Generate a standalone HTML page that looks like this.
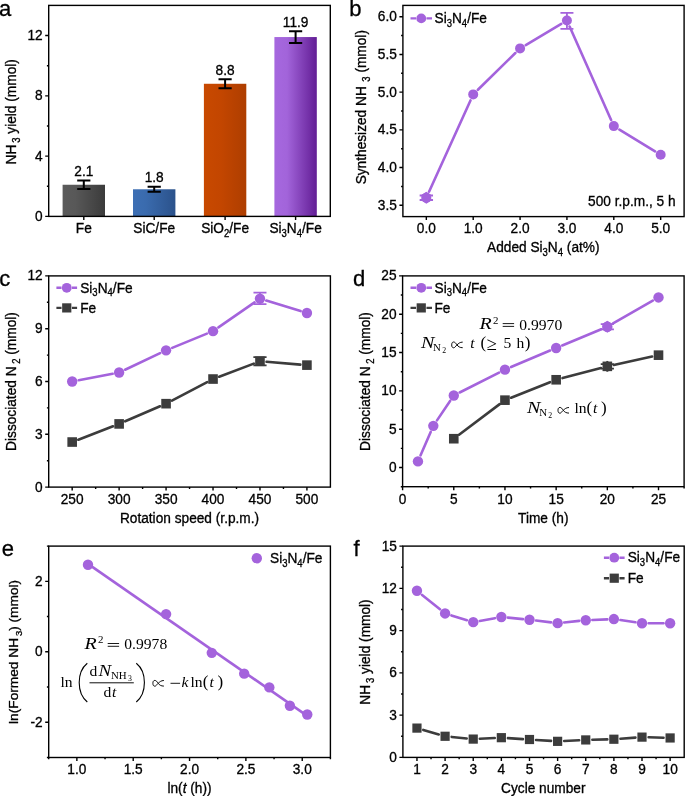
<!DOCTYPE html>
<html><head><meta charset="utf-8"><style>
html,body{margin:0;padding:0;background:#fff;}
svg{display:block;-webkit-font-smoothing:antialiased;will-change:transform;}
</style></head><body>
<svg width="685" height="796" viewBox="0 0 685 796" font-family="Liberation Sans, sans-serif" fill="#000">
<style>text{stroke:#000;stroke-width:0.3px;}</style>
<rect width="685" height="796" fill="#fff"/>
<defs>
<linearGradient id="gFe" x1="0" x2="1" y1="0" y2="0"><stop offset="0" stop-color="#5b5b5b"/><stop offset="0.3" stop-color="#585858"/><stop offset="1" stop-color="#3b3b3b"/></linearGradient>
<linearGradient id="gSiC" x1="0" x2="1" y1="0" y2="0"><stop offset="0" stop-color="#3d6fb4"/><stop offset="0.3" stop-color="#3a6bae"/><stop offset="1" stop-color="#2b528b"/></linearGradient>
<linearGradient id="gSiO" x1="0" x2="1" y1="0" y2="0"><stop offset="0" stop-color="#c84900"/><stop offset="0.4" stop-color="#c34600"/><stop offset="1" stop-color="#ae3e00"/></linearGradient>
<linearGradient id="gSiN" x1="0" x2="1" y1="0" y2="0"><stop offset="0" stop-color="#a668df"/><stop offset="0.3" stop-color="#a264da"/><stop offset="1" stop-color="#621d95"/></linearGradient>
</defs>
<text x="-0.9" y="15.6" font-size="22">a</text>
<rect x="62.6" y="184.75" width="42.4" height="31.65" fill="url(#gFe)"/>
<path d="M83.8 180.53V188.97M77.2 180.53h13.2M77.2 188.97h13.2" stroke="#000" stroke-width="2.0" fill="none"/>
<text transform="translate(83.8,176.23) scale(1,1.1)" text-anchor="middle" font-size="13.7" >2.1</text>
<rect x="133" y="189.27" width="42.4" height="27.13" fill="url(#gSiC)"/>
<path d="M154.2 186.71V191.83M147.6 186.71h13.2M147.6 191.83h13.2" stroke="#000" stroke-width="2.0" fill="none"/>
<text transform="translate(154.2,182.41) scale(1,1.1)" text-anchor="middle" font-size="13.7" >1.8</text>
<rect x="203.9" y="83.77" width="42.4" height="132.63" fill="url(#gSiO)"/>
<path d="M225.1 79.25V88.29M218.5 79.25h13.2M218.5 88.29h13.2" stroke="#000" stroke-width="2.0" fill="none"/>
<text transform="translate(225.1,74.95) scale(1,1.1)" text-anchor="middle" font-size="13.7" >8.8</text>
<rect x="274.4" y="37.05" width="42.4" height="179.35" fill="url(#gSiN)"/>
<path d="M295.6 31.17V42.93M289 31.17h13.2M289 42.93h13.2" stroke="#000" stroke-width="2.0" fill="none"/>
<text transform="translate(295.6,26.87) scale(1,1.1)" text-anchor="middle" font-size="13.7" >11.9</text>
<rect x="48.7" y="5.4" width="281.6" height="211" fill="none" stroke="#000" stroke-width="1.4"/>
<path d="M83.8 216.4v3.5M154.2 216.4v3.5M225.1 216.4v3.5M295.6 216.4v3.5" stroke="#000" stroke-width="1.4" fill="none"/>
<text transform="translate(83.8,233.3) scale(1,1.1)" text-anchor="middle" font-size="13.7" >Fe</text>
<text transform="translate(154.2,233.3) scale(1,1.1)" text-anchor="middle" font-size="13.7" >SiC/Fe</text>
<text transform="translate(225.1,233.3) scale(1,1.1)" text-anchor="middle" font-size="13.7" >SiO<tspan font-size="9.5" dy="3.6">2</tspan><tspan dy="-3.6">/Fe</tspan></text>
<text transform="translate(295.6,233.3) scale(1,1.1)" text-anchor="middle" font-size="13.7" >Si<tspan font-size="9.5" dy="3.6">3</tspan><tspan dy="-3.6">N</tspan><tspan font-size="9.5" dy="3.6">4</tspan><tspan dy="-3.6">/Fe</tspan></text>
<path d="M48.7 216.4h-3.5M48.7 156.11h-3.5M48.7 95.83h-3.5M48.7 35.54h-3.5M48.7 186.26h-1.8M48.7 125.97h-1.8M48.7 65.69h-1.8" stroke="#000" stroke-width="1.4" fill="none"/>
<text transform="translate(42.7,220.9) scale(1,1.1)" text-anchor="end" font-size="13.7" >0</text>
<text transform="translate(42.7,160.61) scale(1,1.1)" text-anchor="end" font-size="13.7" >4</text>
<text transform="translate(42.7,100.33) scale(1,1.1)" text-anchor="end" font-size="13.7" >8</text>
<text transform="translate(42.7,40.04) scale(1,1.1)" text-anchor="end" font-size="13.7" >12</text>
<text transform="translate(16,111.8) rotate(-90) scale(1,1.1)" text-anchor="middle" font-size="13.7">NH<tspan font-size="9.5" dy="3.6"> 3</tspan><tspan dy="-3.6"> yield (mmol)</tspan></text>
<text x="349.3" y="15.6" font-size="22">b</text>
<path d="M429.06 191.73L470.47 100.42M477.91 89.78L515.36 53.02M525.74 45.02L561.26 23.86M569.61 26.52L611.12 120.05M619.43 129.53L655.04 151.31" stroke="#a463dc" stroke-width="2.6" fill="none" stroke-linecap="round"/>
<path d="M426.33 195.48V200.01M419.63 195.48h13.4M419.63 200.01h13.4" stroke="#a463dc" stroke-width="1.8" fill="none"/>
<path d="M426.33 191.74L430.93 194.74V200.74L426.33 203.74L421.73 200.74V194.74Z" fill="#a463dc"/>
<path d="M566.93 12.94V28.78M560.43 12.94h13M560.43 28.78h13" stroke="#a463dc" stroke-width="1.8" fill="none"/>
<circle cx="426.33" cy="197.74" r="5.0" fill="#a463dc"/>
<circle cx="473.2" cy="94.41" r="5.0" fill="#a463dc"/>
<circle cx="520.07" cy="48.39" r="5.0" fill="#a463dc"/>
<circle cx="566.93" cy="20.49" r="5.0" fill="#a463dc"/>
<circle cx="613.8" cy="126.09" r="5.0" fill="#a463dc"/>
<circle cx="660.67" cy="154.75" r="5.0" fill="#a463dc"/>
<rect x="402.9" y="5.4" width="281.2" height="211.2" fill="none" stroke="#000" stroke-width="1.4"/>
<path d="M402.9 205.29h-3.5M402.9 167.57h-3.5M402.9 129.86h-3.5M402.9 92.14h-3.5M402.9 54.43h-3.5M402.9 16.71h-3.5M402.9 186.43h-1.8M402.9 148.71h-1.8M402.9 111h-1.8M402.9 73.29h-1.8M402.9 35.57h-1.8" stroke="#000" stroke-width="1.4" fill="none"/>
<text transform="translate(396.9,209.79) scale(1,1.1)" text-anchor="end" font-size="13.7" >3.5</text>
<text transform="translate(396.9,172.07) scale(1,1.1)" text-anchor="end" font-size="13.7" >4.0</text>
<text transform="translate(396.9,134.36) scale(1,1.1)" text-anchor="end" font-size="13.7" >4.5</text>
<text transform="translate(396.9,96.64) scale(1,1.1)" text-anchor="end" font-size="13.7" >5.0</text>
<text transform="translate(396.9,58.93) scale(1,1.1)" text-anchor="end" font-size="13.7" >5.5</text>
<text transform="translate(396.9,21.21) scale(1,1.1)" text-anchor="end" font-size="13.7" >6.0</text>
<path d="M426.33 216.6v3.5M473.2 216.6v3.5M520.07 216.6v3.5M566.93 216.6v3.5M613.8 216.6v3.5M660.67 216.6v3.5" stroke="#000" stroke-width="1.4" fill="none"/>
<text transform="translate(426.33,233.4) scale(1,1.1)" text-anchor="middle" font-size="13.7" >0.0</text>
<text transform="translate(473.2,233.4) scale(1,1.1)" text-anchor="middle" font-size="13.7" >1.0</text>
<text transform="translate(520.07,233.4) scale(1,1.1)" text-anchor="middle" font-size="13.7" >2.0</text>
<text transform="translate(566.93,233.4) scale(1,1.1)" text-anchor="middle" font-size="13.7" >3.0</text>
<text transform="translate(613.8,233.4) scale(1,1.1)" text-anchor="middle" font-size="13.7" >4.0</text>
<text transform="translate(660.67,233.4) scale(1,1.1)" text-anchor="middle" font-size="13.7" >5.0</text>
<path d="M410.5 18.4H416.05M426.45 18.4H432" stroke="#a463dc" stroke-width="2.4" fill="none"/>
<circle cx="421.25" cy="18.4" r="4.9" fill="#a463dc"/>
<text transform="translate(434.5,23.1) scale(1,1.1)" text-anchor="start" font-size="13.7" >Si<tspan font-size="9.5" dy="3.6">3</tspan><tspan dy="-3.6">N</tspan><tspan font-size="9.5" dy="3.6">4</tspan><tspan dy="-3.6">/Fe</tspan></text>
<text transform="translate(675.6,206.4) scale(1,1.1)" text-anchor="end" font-size="13.7" >500 r.p.m., 5 h</text>
<text transform="translate(366.3,107.2) rotate(-90) scale(1,1.1)" text-anchor="middle" font-size="13.7">Synthesized NH<tspan font-size="9.5" dy="3.6">  3</tspan><tspan dy="-3.6"> (mmol)</tspan></text>
<text transform="translate(543.3,252) scale(1,1.1)" text-anchor="middle" font-size="13.7" >Added Si<tspan font-size="9.5" dy="3.6">3</tspan><tspan dy="-3.6">N</tspan><tspan font-size="9.5" dy="3.6">4</tspan><tspan dy="-3.6"> (at%)</tspan></text>
<text x="-0.7" y="286.3" font-size="22">c</text>
<path d="M78.33 439.67L112.97 426.29M125.19 421.3L160.01 406.29M171.92 400.61L207.18 382.1M219.2 376.7L253.8 363.6M266.55 361.8L300.35 364.59" stroke="#3c3c3c" stroke-width="2.6" fill="none" stroke-linecap="round"/>
<path d="M259.97 357.21V365.31M253.37 357.21h13.2M253.37 365.31h13.2" stroke="#3c3c3c" stroke-width="1.8" fill="none"/>
<rect x="67.38" y="437.24" width="9.6" height="9.6" fill="#3c3c3c"/>
<rect x="114.33" y="419.12" width="9.6" height="9.6" fill="#3c3c3c"/>
<rect x="161.27" y="398.88" width="9.6" height="9.6" fill="#3c3c3c"/>
<rect x="208.23" y="374.24" width="9.6" height="9.6" fill="#3c3c3c"/>
<rect x="255.17" y="356.46" width="9.6" height="9.6" fill="#3c3c3c"/>
<rect x="302.12" y="360.33" width="9.6" height="9.6" fill="#3c3c3c"/>
<path d="M78.66 380.26L112.64 373.76M125.09 369.71L160.11 353.17M172.18 347.85L206.92 333.66M218.45 327.4L254.55 302.37M266.28 300.54L300.62 311.1" stroke="#a463dc" stroke-width="2.6" fill="none" stroke-linecap="round"/>
<path d="M259.97 292.62V304.06M253.47 292.62h13M253.47 304.06h13" stroke="#a463dc" stroke-width="1.8" fill="none"/>
<circle cx="72.17" cy="381.5" r="5.2" fill="#a463dc"/>
<circle cx="119.12" cy="372.52" r="5.2" fill="#a463dc"/>
<circle cx="166.07" cy="350.35" r="5.2" fill="#a463dc"/>
<circle cx="213.03" cy="331.16" r="5.2" fill="#a463dc"/>
<circle cx="259.97" cy="298.6" r="5.2" fill="#a463dc"/>
<circle cx="306.92" cy="313.04" r="5.2" fill="#a463dc"/>
<rect x="48.7" y="275.9" width="281.7" height="211.2" fill="none" stroke="#000" stroke-width="1.4"/>
<path d="M48.7 487.1h-3.5M48.7 434.3h-3.5M48.7 381.5h-3.5M48.7 328.7h-3.5M48.7 275.9h-3.5M48.7 460.7h-1.8M48.7 407.9h-1.8M48.7 355.1h-1.8M48.7 302.3h-1.8" stroke="#000" stroke-width="1.4" fill="none"/>
<text transform="translate(42.7,491.6) scale(1,1.1)" text-anchor="end" font-size="13.7" >0</text>
<text transform="translate(42.7,438.8) scale(1,1.1)" text-anchor="end" font-size="13.7" >3</text>
<text transform="translate(42.7,386) scale(1,1.1)" text-anchor="end" font-size="13.7" >6</text>
<text transform="translate(42.7,333.2) scale(1,1.1)" text-anchor="end" font-size="13.7" >9</text>
<text transform="translate(42.7,280.4) scale(1,1.1)" text-anchor="end" font-size="13.7" >12</text>
<path d="M72.17 487.1v3.5M119.12 487.1v3.5M166.07 487.1v3.5M213.03 487.1v3.5M259.97 487.1v3.5M306.92 487.1v3.5M95.65 487.1v1.8M142.6 487.1v1.8M189.55 487.1v1.8M236.5 487.1v1.8M283.45 487.1v1.8" stroke="#000" stroke-width="1.4" fill="none"/>
<text transform="translate(72.17,503.9) scale(1,1.1)" text-anchor="middle" font-size="13.7" >250</text>
<text transform="translate(119.12,503.9) scale(1,1.1)" text-anchor="middle" font-size="13.7" >300</text>
<text transform="translate(166.07,503.9) scale(1,1.1)" text-anchor="middle" font-size="13.7" >350</text>
<text transform="translate(213.03,503.9) scale(1,1.1)" text-anchor="middle" font-size="13.7" >400</text>
<text transform="translate(259.97,503.9) scale(1,1.1)" text-anchor="middle" font-size="13.7" >450</text>
<text transform="translate(306.92,503.9) scale(1,1.1)" text-anchor="middle" font-size="13.7" >500</text>
<path d="M56.4 287.8H61.55M71.95 287.8H77.1" stroke="#a463dc" stroke-width="2.4" fill="none"/>
<circle cx="66.75" cy="287.8" r="4.9" fill="#a463dc"/>
<text transform="translate(80.2,292.5) scale(1,1.1)" text-anchor="start" font-size="13.7" >Si<tspan font-size="9.5" dy="3.6">3</tspan><tspan dy="-3.6">N</tspan><tspan font-size="9.5" dy="3.6">4</tspan><tspan dy="-3.6">/Fe</tspan></text>
<path d="M56.4 307.9H61.55M71.95 307.9H77.1" stroke="#3c3c3c" stroke-width="2.4" fill="none"/>
<rect x="62.15" y="303.3" width="9.2" height="9.2" fill="#3c3c3c"/>
<text transform="translate(80.2,312.6) scale(1,1.1)" text-anchor="start" font-size="13.7" >Fe</text>
<text transform="translate(15.6,381.5) rotate(-90) scale(1,1.1)" text-anchor="middle" font-size="13.7">Dissociated N<tspan font-size="9.5" dy="3.6"> 2</tspan><tspan dy="-3.6"> (mmol)</tspan></text>
<text transform="translate(189.5,522.7) scale(1,1.1)" text-anchor="middle" font-size="13.7" >Rotation speed (r.p.m.)</text>
<text x="353" y="286.3" font-size="22">d</text>
<path d="M459.05 434.74L499.69 404.13M511.09 397.71L550.01 382.21M562.53 378.09L600.94 368.03M613.77 364.94L652.06 356.57" stroke="#3c3c3c" stroke-width="2.6" fill="none" stroke-linecap="round"/>
<path d="M607.33 364.05V368.65M600.73 364.05h13.2M600.73 368.65h13.2" stroke="#3c3c3c" stroke-width="1.8" fill="none"/>
<path d="M607.33 360.95V371.75" stroke="#3c3c3c" stroke-width="2"/>
<rect x="448.98" y="433.91" width="9.6" height="9.6" fill="#3c3c3c"/>
<rect x="500.16" y="395.36" width="9.6" height="9.6" fill="#3c3c3c"/>
<rect x="551.35" y="374.97" width="9.6" height="9.6" fill="#3c3c3c"/>
<rect x="602.53" y="361.55" width="9.6" height="9.6" fill="#3c3c3c"/>
<rect x="653.71" y="350.36" width="9.6" height="9.6" fill="#3c3c3c"/>
<path d="M420.57 455.34L430.69 431.9M437 420.36L450.09 400.95M459.67 392.51L499.07 372.62M511.04 367.07L550.07 350.53M562.24 345.43L601.23 329.25M613.06 323.44L652.78 300.72" stroke="#a463dc" stroke-width="2.6" fill="none" stroke-linecap="round"/>
<path d="M607.33 324.04V329.4M600.73 324.04h13.2M600.73 329.4h13.2" stroke="#a463dc" stroke-width="1.8" fill="none"/>
<path d="M607.33 320.72L611.93 323.72V329.72L607.33 332.72L602.73 329.72V323.72Z" fill="#a463dc"/>
<circle cx="417.95" cy="461.4" r="5.2" fill="#a463dc"/>
<circle cx="433.31" cy="425.84" r="5.2" fill="#a463dc"/>
<circle cx="453.78" cy="395.48" r="5.2" fill="#a463dc"/>
<circle cx="504.96" cy="369.65" r="5.2" fill="#a463dc"/>
<circle cx="556.15" cy="347.96" r="5.2" fill="#a463dc"/>
<circle cx="607.33" cy="326.72" r="5.2" fill="#a463dc"/>
<circle cx="658.51" cy="297.44" r="5.2" fill="#a463dc"/>
<rect x="402.6" y="275.9" width="281.5" height="210.8" fill="none" stroke="#000" stroke-width="1.4"/>
<path d="M402.6 467.54h-3.5M402.6 429.21h-3.5M402.6 390.88h-3.5M402.6 352.55h-3.5M402.6 314.23h-3.5M402.6 275.9h-3.5M402.6 486.7h-1.8M402.6 448.37h-1.8M402.6 410.05h-1.8M402.6 371.72h-1.8M402.6 333.39h-1.8M402.6 295.06h-1.8" stroke="#000" stroke-width="1.4" fill="none"/>
<text transform="translate(396.6,472.04) scale(1,1.1)" text-anchor="end" font-size="13.7" >0</text>
<text transform="translate(396.6,433.71) scale(1,1.1)" text-anchor="end" font-size="13.7" >5</text>
<text transform="translate(396.6,395.38) scale(1,1.1)" text-anchor="end" font-size="13.7" >10</text>
<text transform="translate(396.6,357.05) scale(1,1.1)" text-anchor="end" font-size="13.7" >15</text>
<text transform="translate(396.6,318.73) scale(1,1.1)" text-anchor="end" font-size="13.7" >20</text>
<text transform="translate(396.6,280.4) scale(1,1.1)" text-anchor="end" font-size="13.7" >25</text>
<path d="M402.6 486.7v3.5M453.78 486.7v3.5M504.96 486.7v3.5M556.15 486.7v3.5M607.33 486.7v3.5M658.51 486.7v3.5M428.19 486.7v1.8M479.37 486.7v1.8M530.55 486.7v1.8M581.74 486.7v1.8M632.92 486.7v1.8M684.1 486.7v1.8" stroke="#000" stroke-width="1.4" fill="none"/>
<text transform="translate(402.6,503.5) scale(1,1.1)" text-anchor="middle" font-size="13.7" >0</text>
<text transform="translate(453.78,503.5) scale(1,1.1)" text-anchor="middle" font-size="13.7" >5</text>
<text transform="translate(504.96,503.5) scale(1,1.1)" text-anchor="middle" font-size="13.7" >10</text>
<text transform="translate(556.15,503.5) scale(1,1.1)" text-anchor="middle" font-size="13.7" >15</text>
<text transform="translate(607.33,503.5) scale(1,1.1)" text-anchor="middle" font-size="13.7" >20</text>
<text transform="translate(658.51,503.5) scale(1,1.1)" text-anchor="middle" font-size="13.7" >25</text>
<path d="M410.5 287.8H416.05M426.45 287.8H432" stroke="#a463dc" stroke-width="2.4" fill="none"/>
<circle cx="421.25" cy="287.8" r="4.9" fill="#a463dc"/>
<text transform="translate(434.5,292.5) scale(1,1.1)" text-anchor="start" font-size="13.7" >Si<tspan font-size="9.5" dy="3.6">3</tspan><tspan dy="-3.6">N</tspan><tspan font-size="9.5" dy="3.6">4</tspan><tspan dy="-3.6">/Fe</tspan></text>
<path d="M410.5 307.9H416.05M426.45 307.9H432" stroke="#3c3c3c" stroke-width="2.4" fill="none"/>
<rect x="416.65" y="303.3" width="9.2" height="9.2" fill="#3c3c3c"/>
<text transform="translate(434.5,312.6) scale(1,1.1)" text-anchor="start" font-size="13.7" >Fe</text>
<text transform="translate(370,381.5) rotate(-90) scale(1,1.1)" text-anchor="middle" font-size="13.7">Dissociated N<tspan font-size="9.5" dy="3.6"> 2</tspan><tspan dy="-3.6"> (mmol)</tspan></text>
<text transform="translate(543.3,522.7) scale(1,1.1)" text-anchor="middle" font-size="13.7" >Time (h)</text>
<g font-family="Liberation Serif, serif" style="stroke-width:0.15px">
<text x="479.5" y="329.3" font-size="17.2" font-style="italic" textLength="12.2" lengthAdjust="spacingAndGlyphs" style="stroke:none">R</text>
<text x="492.9" y="323.5" font-size="10.9" style="stroke:none">2</text>
<path d="M502.7 323.6H514.1" stroke="#000" stroke-width="0.9" fill="none"/>
<path d="M502.7 326.4H514.1" stroke="#000" stroke-width="0.9" fill="none"/>
<text x="519.3" y="329.5" font-size="15.6" style="stroke:none">0.9970</text>
<text x="421" y="348.3" font-size="17.0" font-style="italic" textLength="13.4" lengthAdjust="spacingAndGlyphs" style="stroke:none">N</text>
<text x="433.1" y="351.3" font-size="10.9" style="stroke:none">N</text>
<text x="442.2" y="352.8" font-size="7.8" style="stroke:none">2</text>
<path transform="translate(451.3,341.4)" d="M11.4 0.7C8.5 0.7 7.2 2.2 5.7 3.5S3.6 6.4 2.3 6.4C0.9 6.4 0.4 5.1 0.4 3.5S0.9 0.6 2.3 0.6C3.6 0.6 4.5 1.8 5.7 3.5S8.5 6.3 11.4 6.3" stroke="#000" stroke-width="0.95" fill="none"/>
<text x="470.2" y="348.3" font-size="15.6" font-style="italic" style="stroke:none">t</text>
<text x="480.6" y="348.3" font-size="17" style="stroke:none">(</text>
<text x="486.6" y="349.6" font-size="18.6" style="stroke:none">≥</text>
<text x="503.4" y="348.3" font-size="15.6" style="stroke:none">5</text>
<text x="516.6" y="348.3" font-size="15.6" style="stroke:none">h</text>
<text x="524.8" y="348.3" font-size="17" style="stroke:none">)</text>
<text x="527.1" y="413.3" font-size="17.0" font-style="italic" textLength="13.4" lengthAdjust="spacingAndGlyphs" style="stroke:none">N</text>
<text x="539.2" y="416.3" font-size="10.9" style="stroke:none">N</text>
<text x="548.3" y="417.8" font-size="7.8" style="stroke:none">2</text>
<path transform="translate(557.6,406.8)" d="M11.4 0.7C8.5 0.7 7.2 2.2 5.7 3.5S3.6 6.4 2.3 6.4C0.9 6.4 0.4 5.1 0.4 3.5S0.9 0.6 2.3 0.6C3.6 0.6 4.5 1.8 5.7 3.5S8.5 6.3 11.4 6.3" stroke="#000" stroke-width="0.95" fill="none"/>
<text x="574.5" y="413.3" font-size="15.6" style="stroke:none">ln</text>
<text x="586.5" y="413.3" font-size="17" style="stroke:none">(</text>
<text x="593" y="413.3" font-size="15.6" font-style="italic" style="stroke:none">t</text>
<text x="601" y="413.3" font-size="17" style="stroke:none">)</text>
</g>
<text x="1.7" y="556" font-size="22">e</text>
<path d="M87.98 563.84L307.25 715.88" stroke="#a463dc" stroke-width="2.6" fill="none"/>
<circle cx="87.98" cy="564.77" r="5.2" fill="#a463dc"/>
<circle cx="166.09" cy="614.1" r="5.2" fill="#a463dc"/>
<circle cx="211.77" cy="652.86" r="5.2" fill="#a463dc"/>
<circle cx="244.19" cy="673.64" r="5.2" fill="#a463dc"/>
<circle cx="269.33" cy="687.39" r="5.2" fill="#a463dc"/>
<circle cx="289.88" cy="705.71" r="5.2" fill="#a463dc"/>
<circle cx="307.25" cy="714.52" r="5.2" fill="#a463dc"/>
<rect x="48.7" y="546.1" width="281.7" height="211.4" fill="none" stroke="#000" stroke-width="1.4"/>
<path d="M48.7 722.27h-3.5M48.7 651.8h-3.5M48.7 581.33h-3.5M48.7 757.5h-1.8M48.7 687.03h-1.8M48.7 616.57h-1.8M48.7 546.1h-1.8" stroke="#000" stroke-width="1.4" fill="none"/>
<text transform="translate(42.7,726.77) scale(1,1.1)" text-anchor="end" font-size="13.7" >-2</text>
<text transform="translate(42.7,656.3) scale(1,1.1)" text-anchor="end" font-size="13.7" >0</text>
<text transform="translate(42.7,585.83) scale(1,1.1)" text-anchor="end" font-size="13.7" >2</text>
<path d="M76.87 757.5v3.5M133.21 757.5v3.5M189.55 757.5v3.5M245.89 757.5v3.5M302.23 757.5v3.5M48.7 757.5v1.8M105.04 757.5v1.8M161.38 757.5v1.8M217.72 757.5v1.8M274.06 757.5v1.8M330.4 757.5v1.8" stroke="#000" stroke-width="1.4" fill="none"/>
<text transform="translate(76.87,774.3) scale(1,1.1)" text-anchor="middle" font-size="13.7" >1.0</text>
<text transform="translate(133.21,774.3) scale(1,1.1)" text-anchor="middle" font-size="13.7" >1.5</text>
<text transform="translate(189.55,774.3) scale(1,1.1)" text-anchor="middle" font-size="13.7" >2.0</text>
<text transform="translate(245.89,774.3) scale(1,1.1)" text-anchor="middle" font-size="13.7" >2.5</text>
<text transform="translate(302.23,774.3) scale(1,1.1)" text-anchor="middle" font-size="13.7" >3.0</text>
<circle cx="256.8" cy="558.2" r="5.2" fill="#a463dc"/>
<text transform="translate(270,563) scale(1,1.1)" text-anchor="start" font-size="13.7" >Si<tspan font-size="9.5" dy="3.6">3</tspan><tspan dy="-3.6">N</tspan><tspan font-size="9.5" dy="3.6">4</tspan><tspan dy="-3.6">/Fe</tspan></text>
<text transform="translate(18.2,651.9) rotate(-90) scale(1,1.0)" text-anchor="middle" font-size="13.7">ln(Formed NH<tspan font-size="9.5" dy="3.6"> 3</tspan><tspan dy="-3.6">) (mmol)</tspan></text>
<text transform="translate(189.5,793) scale(1,1.1)" text-anchor="middle" font-size="13.7" >ln(<tspan font-style="italic">t</tspan> (h))</text>
<g font-family="Liberation Serif, serif" style="stroke-width:0.15px">
<text x="84.5" y="649.2" font-size="17.2" font-style="italic" textLength="12.2" lengthAdjust="spacingAndGlyphs" style="stroke:none">R</text>
<text x="97.9" y="643.4" font-size="10.9" style="stroke:none">2</text>
<path d="M107.7 643.5H119.1" stroke="#000" stroke-width="0.9" fill="none"/>
<path d="M107.7 646.3H119.1" stroke="#000" stroke-width="0.9" fill="none"/>
<text x="124.3" y="649.4" font-size="15.6" style="stroke:none">0.9978</text>
<text x="60.4" y="687.2" font-size="15.6" style="stroke:none">ln</text>
<path d="M87.3 663.3C81.5 668 79.2 675 79.2 682.6S81.5 697.3 87.3 702" stroke="#000" stroke-width="1.1" fill="none"/>
<path d="M136.3 663.3C142.1 668 144.4 675 144.4 682.6S142.1 697.3 136.3 702" stroke="#000" stroke-width="1.1" fill="none"/>
<text x="89.6" y="676.4" font-size="15.6" style="stroke:none">d</text>
<text x="98.6" y="676.4" font-size="16.6" font-style="italic" textLength="12.6" lengthAdjust="spacingAndGlyphs" style="stroke:none">N</text>
<text x="111" y="679.4" font-size="10.9" style="stroke:none">NH</text>
<text x="128" y="680.9" font-size="7.8" style="stroke:none">3</text>
<path d="M89.5 682.8H133.8" stroke="#000" stroke-width="0.95" fill="none"/>
<text x="103.6" y="697.4" font-size="15.6" style="stroke:none">d</text>
<text x="112" y="697.4" font-size="15.6" font-style="italic" style="stroke:none">t</text>
<path transform="translate(152.5,679.8)" d="M11.4 0.7C8.5 0.7 7.2 2.2 5.7 3.5S3.6 6.4 2.3 6.4C0.9 6.4 0.4 5.1 0.4 3.5S0.9 0.6 2.3 0.6C3.6 0.6 4.5 1.8 5.7 3.5S8.5 6.3 11.4 6.3" stroke="#000" stroke-width="0.95" fill="none"/>
<path d="M170.5 683.3H180.1" stroke="#000" stroke-width="0.9" fill="none"/>
<text x="181.6" y="687.2" font-size="15.6" font-style="italic" style="stroke:none">k</text>
<text x="190.4" y="687.2" font-size="15.6" style="stroke:none">ln</text>
<text x="202.8" y="687.2" font-size="17" style="stroke:none">(</text>
<text x="209.4" y="687.2" font-size="15.6" font-style="italic" style="stroke:none">t</text>
<text x="217.4" y="687.2" font-size="17" style="stroke:none">)</text>
</g>
<text x="353.5" y="556" font-size="22">f</text>
<path d="M423.3 729.94L438.76 734.43M451.66 736.93L466.66 738.43M479.82 738.76L494.76 738.01M507.94 738.11L522.9 739.08M536.07 739.94L551.03 740.91M564.21 741.01L579.15 740.26M592.34 739.77L607.28 739.39M620.46 738.73L635.42 737.61M648.6 737.31L663.54 737.76" stroke="#3c3c3c" stroke-width="2.6" fill="none" stroke-linecap="round"/>
<rect x="412.36" y="723.5" width="9.2" height="9.2" fill="#3c3c3c"/>
<rect x="440.49" y="731.67" width="9.2" height="9.2" fill="#3c3c3c"/>
<rect x="468.62" y="734.49" width="9.2" height="9.2" fill="#3c3c3c"/>
<rect x="496.75" y="733.08" width="9.2" height="9.2" fill="#3c3c3c"/>
<rect x="524.88" y="734.91" width="9.2" height="9.2" fill="#3c3c3c"/>
<rect x="553.01" y="736.74" width="9.2" height="9.2" fill="#3c3c3c"/>
<rect x="581.14" y="735.33" width="9.2" height="9.2" fill="#3c3c3c"/>
<rect x="609.27" y="734.63" width="9.2" height="9.2" fill="#3c3c3c"/>
<rect x="637.4" y="732.52" width="9.2" height="9.2" fill="#3c3c3c"/>
<rect x="665.53" y="733.36" width="9.2" height="9.2" fill="#3c3c3c"/>
<path d="M422.1 594.9L439.96 609.29M451.4 615.39L466.92 620.21M479.71 620.97L494.87 618.16M507.92 617.61L522.92 619.12M536.04 620.56L551.06 622.37M564.18 622.46L579.18 620.89M592.34 619.93L607.28 619.33M620.4 620.05L635.48 622.31M648.61 623.29L663.53 623.29" stroke="#a463dc" stroke-width="2.6" fill="none" stroke-linecap="round"/>
<circle cx="416.96" cy="590.75" r="5.2" fill="#a463dc"/>
<circle cx="445.09" cy="613.43" r="5.2" fill="#a463dc"/>
<circle cx="473.23" cy="622.17" r="5.2" fill="#a463dc"/>
<circle cx="501.36" cy="616.96" r="5.2" fill="#a463dc"/>
<circle cx="529.49" cy="619.77" r="5.2" fill="#a463dc"/>
<circle cx="557.62" cy="623.15" r="5.2" fill="#a463dc"/>
<circle cx="585.75" cy="620.2" r="5.2" fill="#a463dc"/>
<circle cx="613.88" cy="619.07" r="5.2" fill="#a463dc"/>
<circle cx="642" cy="623.29" r="5.2" fill="#a463dc"/>
<circle cx="670.13" cy="623.29" r="5.2" fill="#a463dc"/>
<rect x="402.9" y="546.1" width="281.3" height="211.3" fill="none" stroke="#000" stroke-width="1.4"/>
<path d="M402.9 757.4h-3.5M402.9 715.14h-3.5M402.9 672.88h-3.5M402.9 630.62h-3.5M402.9 588.36h-3.5M402.9 546.1h-3.5M402.9 736.27h-1.8M402.9 694.01h-1.8M402.9 651.75h-1.8M402.9 609.49h-1.8M402.9 567.23h-1.8" stroke="#000" stroke-width="1.4" fill="none"/>
<text transform="translate(396.9,761.9) scale(1,1.1)" text-anchor="end" font-size="13.7" >0</text>
<text transform="translate(396.9,719.64) scale(1,1.1)" text-anchor="end" font-size="13.7" >3</text>
<text transform="translate(396.9,677.38) scale(1,1.1)" text-anchor="end" font-size="13.7" >6</text>
<text transform="translate(396.9,635.12) scale(1,1.1)" text-anchor="end" font-size="13.7" >9</text>
<text transform="translate(396.9,592.86) scale(1,1.1)" text-anchor="end" font-size="13.7" >12</text>
<text transform="translate(396.9,550.6) scale(1,1.1)" text-anchor="end" font-size="13.7" >15</text>
<path d="M416.96 757.4v3.5M445.09 757.4v3.5M473.23 757.4v3.5M501.36 757.4v3.5M529.49 757.4v3.5M557.62 757.4v3.5M585.75 757.4v3.5M613.88 757.4v3.5M642 757.4v3.5M670.13 757.4v3.5M431.03 757.4v1.8M459.16 757.4v1.8M487.29 757.4v1.8M515.42 757.4v1.8M543.55 757.4v1.8M571.68 757.4v1.8M599.81 757.4v1.8M627.94 757.4v1.8M656.07 757.4v1.8" stroke="#000" stroke-width="1.4" fill="none"/>
<text transform="translate(416.96,774.2) scale(1,1.1)" text-anchor="middle" font-size="13.7" >1</text>
<text transform="translate(445.09,774.2) scale(1,1.1)" text-anchor="middle" font-size="13.7" >2</text>
<text transform="translate(473.23,774.2) scale(1,1.1)" text-anchor="middle" font-size="13.7" >3</text>
<text transform="translate(501.36,774.2) scale(1,1.1)" text-anchor="middle" font-size="13.7" >4</text>
<text transform="translate(529.49,774.2) scale(1,1.1)" text-anchor="middle" font-size="13.7" >5</text>
<text transform="translate(557.62,774.2) scale(1,1.1)" text-anchor="middle" font-size="13.7" >6</text>
<text transform="translate(585.75,774.2) scale(1,1.1)" text-anchor="middle" font-size="13.7" >7</text>
<text transform="translate(613.88,774.2) scale(1,1.1)" text-anchor="middle" font-size="13.7" >8</text>
<text transform="translate(642,774.2) scale(1,1.1)" text-anchor="middle" font-size="13.7" >9</text>
<text transform="translate(670.13,774.2) scale(1,1.1)" text-anchor="middle" font-size="13.7" >10</text>
<path d="M603.9 557.7H609.05M619.45 557.7H624.6" stroke="#a463dc" stroke-width="2.4" fill="none"/>
<circle cx="614.25" cy="557.7" r="4.9" fill="#a463dc"/>
<text transform="translate(627.7,562.4) scale(1,1.1)" text-anchor="start" font-size="13.7" >Si<tspan font-size="9.5" dy="3.6">3</tspan><tspan dy="-3.6">N</tspan><tspan font-size="9.5" dy="3.6">4</tspan><tspan dy="-3.6">/Fe</tspan></text>
<path d="M603.9 578.2H609.05M619.45 578.2H624.6" stroke="#3c3c3c" stroke-width="2.4" fill="none"/>
<rect x="609.65" y="573.6" width="9.2" height="9.2" fill="#3c3c3c"/>
<text transform="translate(627.7,582.9) scale(1,1.1)" text-anchor="start" font-size="13.7" >Fe</text>
<text transform="translate(370,652) rotate(-90) scale(1,1.1)" text-anchor="middle" font-size="13.7">NH<tspan font-size="9.5" dy="3.6"> 3</tspan><tspan dy="-3.6"> yield (mmol)</tspan></text>
<text transform="translate(543.3,793) scale(1,1.1)" text-anchor="middle" font-size="13.7" >Cycle number</text>
</svg>
</body></html>
